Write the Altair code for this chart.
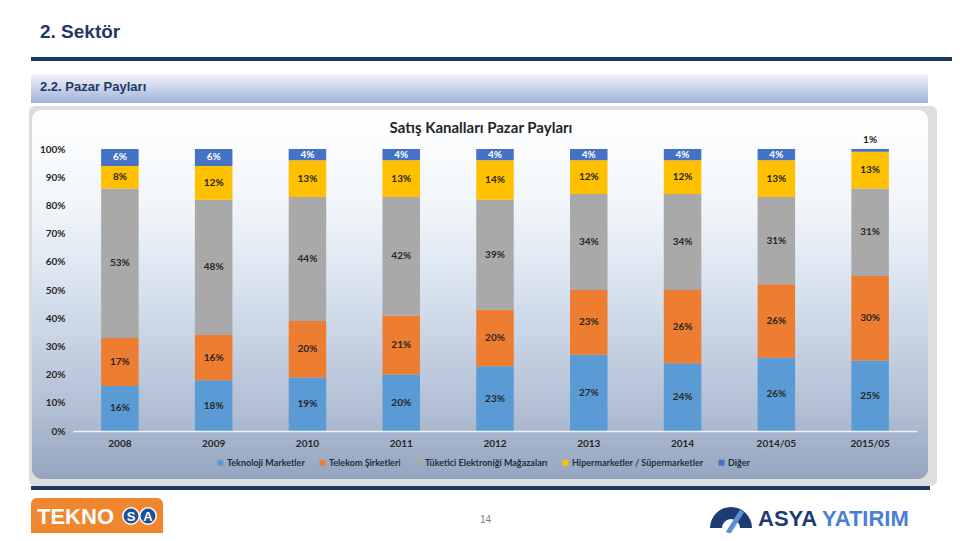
import altair as alt
import pandas as pd

# ---------------- data ----------------
categories = ["2008", "2009", "2010", "2011", "2012", "2013", "2014", "2014/05", "2015/05"]
series = ["Teknoloji Marketler", "Telekom Şirketleri", "Tüketici Elektroniği Mağazaları",
          "Hipermarketler / Süpermarketler", "Diğer"]
teknoloji = [16, 18, 19, 20, 23, 27, 24, 26, 25]
telekom = [17, 16, 20, 21, 20, 23, 26, 26, 30]
tuketici = [53, 48, 44, 42, 39, 34, 34, 31, 31]
hiper = [8, 12, 13, 13, 14, 12, 12, 13, 13]
diger = [6, 6, 4, 4, 4, 4, 4, 4, 1]
colors = ["#5B9BD5", "#ED7D31", "#A9A9A9", "#FFC000", "#4472C4"]
y_ticks = [0, 10, 20, 30, 40, 50, 60, 70, 80, 90, 100]

rows = []
for s_i, (name, vals) in enumerate(zip(series, [teknoloji, telekom, tuketici, hiper, diger])):
    for c, v in zip(categories, vals):
        rows.append({"cat": c, "series": name, "value": v, "order": s_i, "lbl": f"{v}%"})
df = pd.DataFrame(rows)

FONT = "Lato"
TXT = "#262626"

x_scale = alt.Scale(domain=categories, paddingInner=0.6, paddingOuter=0.3)
x_axis = alt.Axis(title=None, labelAngle=0, ticks=False, domainColor="#EEF2F7",
                  domainWidth=1.5, labelFont=FONT, labelFontWeight="bold",
                  labelFontSize=10, labelColor=TXT, labelPadding=7, grid=False, zindex=1)
y_scale = alt.Scale(domain=[0, 100], nice=False)
y_axis = alt.Axis(title=None, values=y_ticks, labelExpr="datum.value + '%'",
                  domain=False, ticks=False, grid=False, labelFont=FONT,
                  labelFontWeight="bold", labelFontSize=10, labelColor=TXT,
                  labelPadding=8, labelOverlap=False, labelFlush=False, zindex=1)

base = alt.Chart(df).transform_stack(
    stack="value", groupby=["cat"], sort=[alt.SortField("order", order="ascending")],
    as_=["y0", "y1"]
).transform_calculate(mid="(datum.y0 + datum.y1) / 2")

bars = base.mark_bar().encode(
    x=alt.X("cat:N", sort=categories, scale=x_scale, axis=x_axis),
    y=alt.Y("y0:Q", scale=y_scale, axis=y_axis),
    y2="y1:Q",
    color=alt.Color("series:N", scale=alt.Scale(domain=series, range=colors),
                    legend=alt.Legend(orient="none", legendX=143, legendY=309,
                                      direction="horizontal", title=None,
                                      symbolType="square", symbolSize=36,
                                      symbolStrokeWidth=0, labelFont=FONT,
                                      labelFontWeight="bold", labelFontSize=9,
                                      labelColor="#1F2D3D", columnPadding=13,
                                      labelOffset=2, zindex=1)),
)

labels = base.transform_filter("datum.value >= 2").mark_text(
    font=FONT, fontWeight="bold", fontSize=10, baseline="middle", align="center"
).encode(
    x=alt.X("cat:N", sort=categories, scale=x_scale, axis=x_axis),
    y=alt.Y("mid:Q", scale=y_scale, axis=y_axis),
    text="lbl:N",
    color=alt.condition(alt.datum.series == "Diğer", alt.value("white"), alt.value(TXT)),
)

small_labels = base.transform_filter("datum.value < 2").mark_text(
    font=FONT, fontWeight="bold", fontSize=10, baseline="middle", align="center",
    dy=-9, color=TXT
).encode(
    x=alt.X("cat:N", sort=categories, scale=x_scale, axis=x_axis),
    y=alt.Y("y1:Q", scale=y_scale, axis=y_axis),
    text="lbl:N",
)

# ---------------- slide decoration (plot origin is at page x=73, y=149) ----------------
one = pd.DataFrame({"k": [0]})
deco = alt.Chart(one)

def rule(x1, x2, y, color, w):
    return deco.mark_rule(color=color, strokeWidth=w).encode(
        x=alt.value(x1), x2=alt.value(x2), y=alt.value(y))

def rect(x1, x2, y1, y2, fill, radius=0):
    return deco.mark_rect(fill=fill, cornerRadius=radius, strokeWidth=0).encode(
        x=alt.value(x1), x2=alt.value(x2), y=alt.value(y1), y2=alt.value(y2))

def text(t, x, y, size, color, weight="bold", font="Liberation Sans", align="left"):
    return deco.mark_text(text=t, fontSize=size, color=color, fontWeight=weight, font=font,
                          align=align, baseline="middle").encode(
        x=alt.value(x), y=alt.value(y))

panel_grad = alt.Gradient(
    gradient="linear", x1=0, x2=0, y1=0, y2=1,
    stops=[alt.GradientStop(color="#FFFFFF", offset=0),
           alt.GradientStop(color="#F2F6FA", offset=0.25),
           alt.GradientStop(color="#D6E1EE", offset=0.5),
           alt.GradientStop(color="#B1BED3", offset=0.82),
           alt.GradientStop(color="#95A5C0", offset=1)])
banner_grad = alt.Gradient(
    gradient="linear", x1=0, x2=0, y1=0, y2=1,
    stops=[alt.GradientStop(color="#F2F4F9", offset=0),
           alt.GradientStop(color="#C9D3EA", offset=0.5),
           alt.GradientStop(color="#A0B2D8", offset=1)])

red_line = rule(-42, 887, -145, "#C0504D", 1.5)
title_main = text("2. Sektör", -33, -117, 19, "#1F3864")
navy_line = rule(-42, 887, -90, "#1F3864", 4)
banner = rect(-42, 855, -75, -46, banner_grad)
banner_txt = text("2.2. Pazar Payları", -33, -62, 13, "#1F3864")
shadow = rect(-44, 864, -43, 337, "#DEDEDE", 6)
panel = rect(-41, 855, -39, 330, panel_grad, 10)
chart_title = text("Satış Kanalları Pazar Payları", 408, -21, 15, TXT, font=FONT, align="center")
bottom_line = rule(-42, 857, 339, "#1F3864", 4)

teknosa_box = rect(-42, 90, 349, 390, "#F0862E", 6)
teknosa_txt = text("TEKNO", -36, 368, 22, "white")
circles = deco.mark_circle(size=270, color="#1F4E9A", opacity=1, stroke="white",
                           strokeWidth=1.5).encode(
    x=alt.value(58), y=alt.value(367))
circles2 = deco.mark_circle(size=270, color="#1F4E9A", opacity=1, stroke="white",
                            strokeWidth=1.5).encode(
    x=alt.value(75), y=alt.value(367))
s_txt = text("S", 58, 368, 13, "white", align="center")
a_txt = text("A", 75, 368, 13, "white", align="center")
page_no = text("14", 407, 371, 10, "#7F7F7F", weight="normal")

asya_arc = deco.mark_arc(theta=4.712, theta2=7.854, radius=21, radius2=9,
                         color="#1F3B73").encode(x=alt.value(658), y=alt.value(379))
asya_slash = deco.mark_rule(color="#5B8FD8", strokeWidth=5).encode(
    x=alt.value(655), x2=alt.value(669), y=alt.value(384), y2=alt.value(362))
asya_txt = text("ASYA", 685, 370, 22, "#1F3B73")
yatirim_txt = text("YATIRIM", 749, 370, 22, "#4A7FD1")

chart = alt.layer(
    red_line, navy_line, banner, banner_txt, title_main, shadow, panel, chart_title,
    bars, labels, small_labels,
    bottom_line, teknosa_box, teknosa_txt, circles, circles2, s_txt, a_txt, page_no,
    asya_arc, asya_slash, asya_txt, yatirim_txt,
).properties(
    width=844, height=282,
    padding={"left": 65, "top": 141, "right": 35, "bottom": 102},
    autosize=alt.AutoSizeParams(type="none"),
    background="white",
).configure_view(stroke=None)

chart.save("out.html", embed_options={"renderer": "svg", "actions": False})
